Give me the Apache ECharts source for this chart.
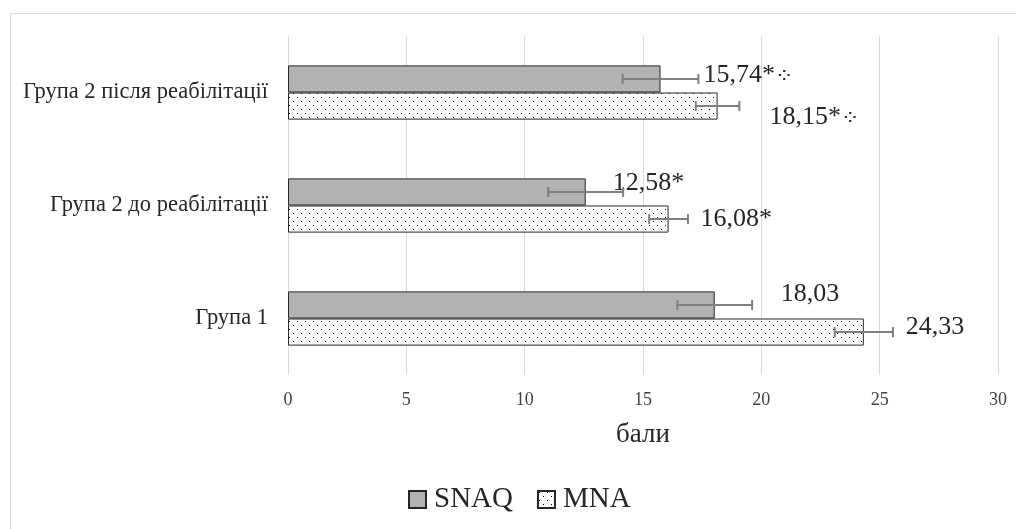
<!DOCTYPE html>
<html>
<head>
<meta charset="utf-8">
<script src="https://cdn.jsdelivr.net/npm/echarts@6/dist/echarts.min.js"></script>
<style>html,body{margin:0;padding:0;background:#fff}#c{width:1016px;height:529px}</style>
</head>
<body>
<div id="c"></div>
<script>
// ---- data ----
const categories = ['Група 1', 'Група 2 до реабілітації', 'Група 2 після реабілітації'];
const snaqValues = [18.03, 12.58, 15.74];
const mnaValues = [24.33, 16.08, 18.15];
const snaqErrors = [1.58, 1.58, 1.6];
const mnaErrors = [1.23, 0.82, 0.92];
const snaqMarks = ['', '*', '*⁘'];
const mnaMarks = ['', '*', '*⁘'];
const xTicks = [0, 5, 10, 15, 20, 25, 30];
const seriesNames = ['SNAQ', 'MNA'];
const axisTitle = 'бали';

// ---- label placement (style, not data) ----
const snaqLabelOffsets = [[66, -11], [27, -9], [43, -4]];
const mnaLabelOffsets = [[42, -5], [32, 0], [52, 11]];

const serif = "'Liberation Serif', 'Times New Roman', serif";

function dotPattern() {
  const c = document.createElement('canvas');
  c.width = 8; c.height = 8;
  const g = c.getContext('2d');
  g.fillStyle = '#fff'; g.fillRect(0, 0, 8, 8);
  g.fillStyle = '#000';
  g.fillRect(1, 1, 1, 1);
  g.fillRect(5, 5, 1, 1);
  return c;
}
const mnaFill = { image: dotPattern(), repeat: 'repeat' };

function fmt(v, mark) {
  const num = v.toFixed(2).replace('.', ',');
  const star = mark.indexOf('*') >= 0 ? '*' : '';
  const sym = mark.replace('*', '');
  return num + star + (sym ? '{s|' + sym + '}' : '');
}

function barData(values, marks, offsets) {
  return values.map((v, i) => ({
    value: v,
    label: { offset: offsets[i], formatter: () => fmt(v, marks[i]) }
  }));
}

const errData = [];
snaqValues.forEach((v, i) => errData.push([v, i, snaqErrors[i], 0]));
mnaValues.forEach((v, i) => errData.push([v, i, mnaErrors[i], 1]));

const BAR_FRAC = 0.24;
const labelStyle = {
  show: true, position: 'right', distance: 0, fontFamily: serif, fontSize: 26, color: '#262626',
  rich: { s: { fontFamily: "'DejaVu Sans', sans-serif", fontSize: 22, color: '#262626', padding: [4, 0, 0, 0] } }
};

const chart = echarts.init(document.getElementById('c'), null, { renderer: 'canvas' });
chart.setOption({
  animation: false,
  backgroundColor: '#fff',
  graphic: [{
    type: 'rect', left: 8, top: 11, z: -10,
    shape: { x: 0.5, y: 0.5, width: 1030, height: 540 },
    style: { fill: 'none', stroke: '#d9d9d9', lineWidth: 1 }
  }],
  grid: { left: 288, right: 18, top: 36, bottom: 154, containLabel: false },
  legend: {
    data: seriesNames,
    left: 403, top: 480,
    itemWidth: 17, itemHeight: 17, itemGap: 24,
    icon: 'rect',
    textStyle: { fontFamily: serif, fontSize: 29, color: '#262626', padding: [0, 0, 0, 3] }
  },
  xAxis: {
    type: 'value', min: 0, max: 30, interval: 5,
    name: axisTitle, nameLocation: 'middle', nameGap: 46, nameMoveOverlap: false,
    nameTextStyle: { fontFamily: serif, fontSize: 27, color: '#262626' },
    axisLine: { show: false }, axisTick: { show: false },
    axisLabel: { fontFamily: serif, fontSize: 18, color: '#404040', margin: 16,
      formatter: v => xTicks.includes(v) ? String(v) : '' },
    splitLine: { show: true, lineStyle: { color: '#d9d9d9', width: 1 } }
  },
  yAxis: {
    type: 'category', data: categories,
    axisLine: { show: false }, axisTick: { show: false },
    axisLabel: { fontFamily: serif, fontSize: 22.5, color: '#262626', margin: 20 }
  },
  series: [
    {
      name: seriesNames[0], type: 'bar', barWidth: (BAR_FRAC * 100) + '%', barGap: '0%',
      data: barData(snaqValues, snaqMarks, snaqLabelOffsets),
      itemStyle: { color: '#b1b2b4', borderColor: '#262626', borderWidth: 1 },
      label: labelStyle
    },
    {
      name: seriesNames[1], type: 'bar', barWidth: (BAR_FRAC * 100) + '%', barGap: '0%',
      data: barData(mnaValues, mnaMarks, mnaLabelOffsets),
      itemStyle: { color: mnaFill, borderColor: '#262626', borderWidth: 1 },
      label: labelStyle
    },
    {
      type: 'custom', name: 'err', silent: true, z: 5,
      encode: { x: 0, y: 1 },
      data: errData,
      renderItem: function (params, api) {
        const v = api.value(0), c = api.value(1), e = api.value(2), s = api.value(3);
        const p = api.coord([v, c]);
        const bh = api.size([0, 1])[1] * BAR_FRAC;
        const y = p[1] + (s === 0 ? -bh / 2 : bh / 2);
        const x0 = api.coord([v - e, c])[0];
        const x1 = api.coord([v + e, c])[0];
        const st = { stroke: '#7f7f7f', lineWidth: 2 };
        const cap = 5;
        return {
          type: 'group',
          children: [
            { type: 'line', shape: { x1: x0, y1: y, x2: x1, y2: y }, style: st },
            { type: 'line', shape: { x1: x0, y1: y - cap, x2: x0, y2: y + cap }, style: st },
            { type: 'line', shape: { x1: x1, y1: y - cap, x2: x1, y2: y + cap }, style: st }
          ]
        };
      }
    }
  ]
});
</script>
</body>
</html>
